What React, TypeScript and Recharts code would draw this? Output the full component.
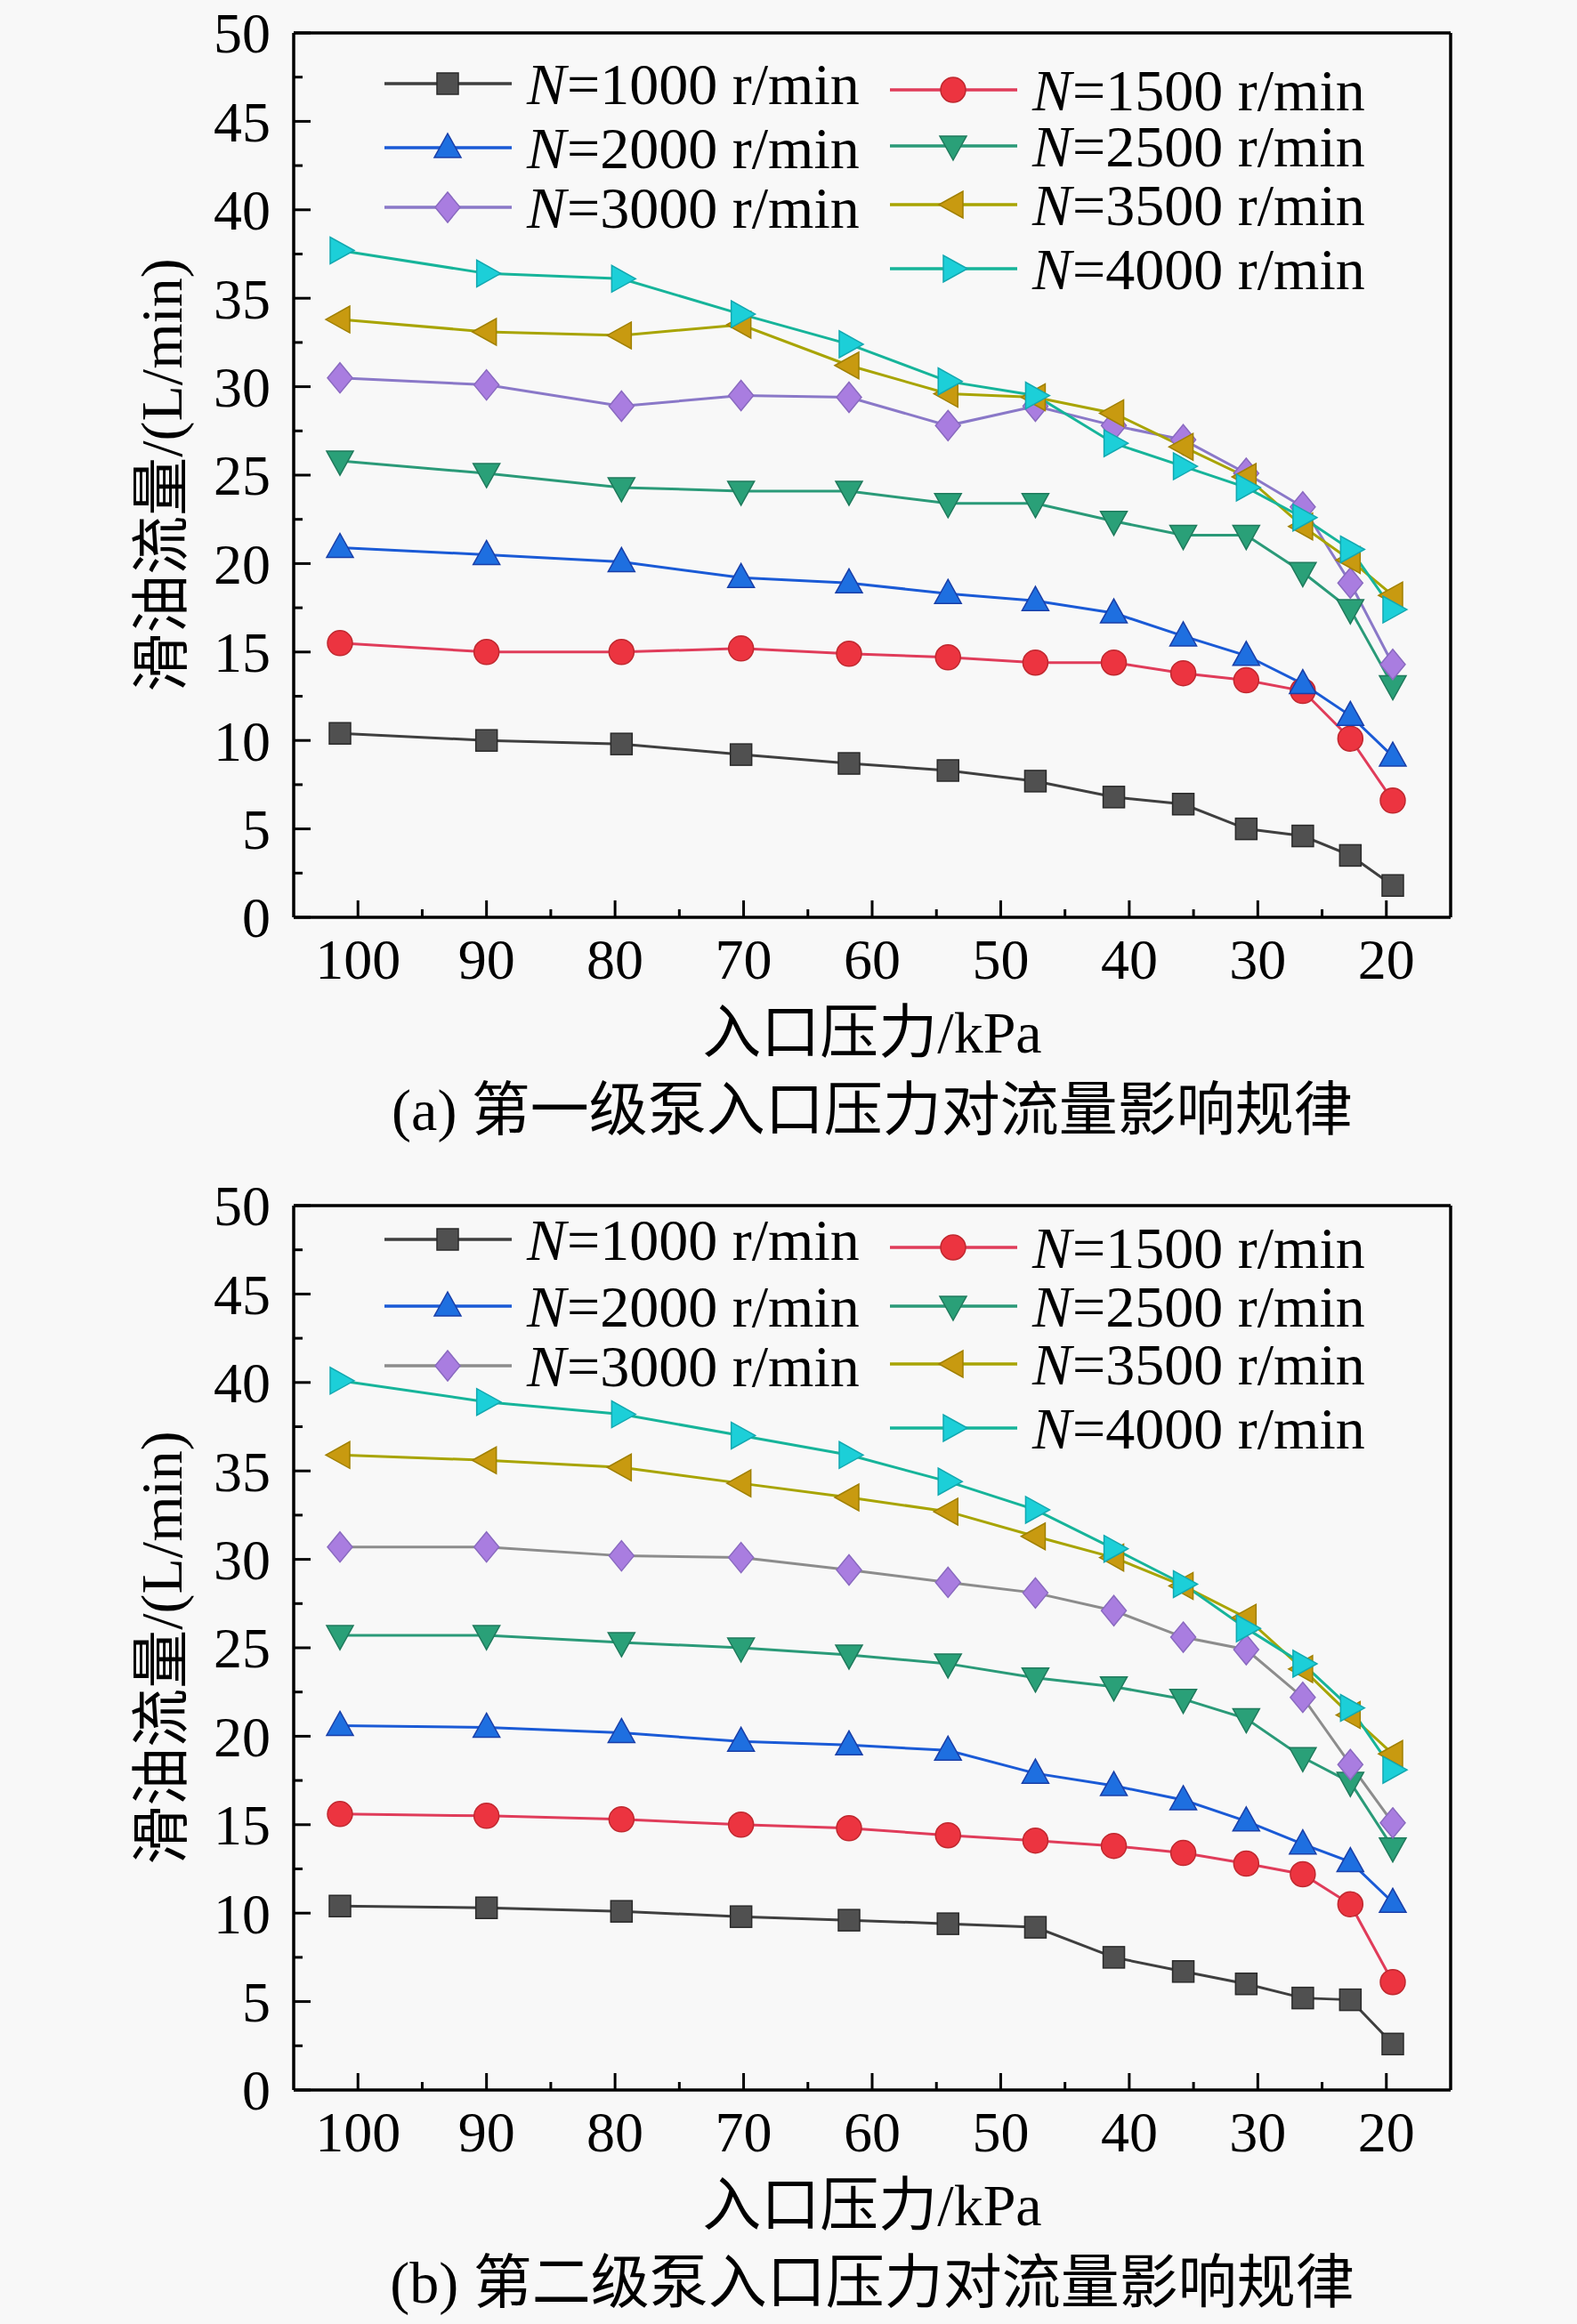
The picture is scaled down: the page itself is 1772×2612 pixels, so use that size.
import React from "react";
import { LineChart, Line, XAxis, YAxis, ReferenceLine, Legend } from "recharts";

const FONT = '"Liberation Serif", "Times New Roman", "Noto Sans CJK SC", serif';

// inlet pressure (kPa), same sampling points for all curves
const pressure = [101.4, 90.0, 79.5, 70.2, 61.8, 54.1, 47.3, 41.2, 35.8, 30.9, 26.5, 22.8, 19.5];
const speeds = [1000, 1500, 2000, 2500, 3000, 3500, 4000];
const xTicks = [20, 25, 30, 35, 40, 45, 50, 55, 60, 65, 70, 75, 80, 85, 90, 95, 100];
const yTicks = [0, 2.5, 5, 7.5, 10, 12.5, 15, 17.5, 20, 22.5, 25, 27.5, 30, 32.5, 35, 37.5, 40, 42.5, 45, 47.5, 50];

// (a) first stage pump, oil flow L/min
const a1000 = [10.4, 10.0, 9.8, 9.2, 8.7, 8.3, 7.7, 6.8, 6.4, 5.0, 4.6, 3.5, 1.8];
const a1500 = [15.5, 15.0, 15.0, 15.2, 14.9, 14.7, 14.4, 14.4, 13.8, 13.4, 12.8, 10.1, 6.6];
const a2000 = [20.9, 20.5, 20.1, 19.2, 18.9, 18.3, 17.9, 17.2, 15.9, 14.8, 13.2, 11.4, 9.1];
const a2500 = [25.8, 25.1, 24.3, 24.1, 24.1, 23.4, 23.4, 22.4, 21.6, 21.6, 19.5, 17.4, 13.1];
const a3000 = [30.5, 30.1, 28.9, 29.5, 29.4, 27.8, 28.9, 27.8, 27.0, 25.1, 23.2, 18.9, 14.3];
const a3500 = [33.8, 33.1, 32.9, 33.5, 31.2, 29.6, 29.4, 28.5, 26.6, 24.9, 22.1, 20.2, 18.2];
const a4000 = [37.7, 36.4, 36.1, 34.1, 32.4, 30.3, 29.5, 26.8, 25.5, 24.3, 22.6, 20.8, 17.4];

// (b) second stage pump
const b1000 = [10.4, 10.3, 10.1, 9.8, 9.6, 9.4, 9.2, 7.5, 6.7, 6.0, 5.2, 5.1, 2.6];
const b1500 = [15.6, 15.5, 15.3, 15.0, 14.8, 14.4, 14.1, 13.8, 13.4, 12.8, 12.2, 10.5, 6.1];
const b2000 = [20.6, 20.5, 20.2, 19.7, 19.5, 19.2, 17.9, 17.2, 16.4, 15.2, 13.9, 12.9, 10.6];
const b2500 = [25.7, 25.7, 25.3, 25.0, 24.6, 24.1, 23.3, 22.8, 22.1, 21.0, 18.8, 17.4, 13.7];
const b3000 = [30.7, 30.7, 30.2, 30.1, 29.4, 28.7, 28.1, 27.1, 25.6, 24.9, 22.2, 18.4, 15.1];
const b3500 = [35.9, 35.6, 35.2, 34.3, 33.5, 32.7, 31.3, 30.1, 28.5, 26.7, 23.8, 21.2, 19.0];
const b4000 = [40.1, 38.9, 38.2, 37.0, 35.9, 34.4, 32.8, 30.6, 28.6, 26.1, 24.1, 21.6, 18.1];

const styles = [
  { line: "#3f3f3f", fill: "#505050", stroke: "#2a2a2a", shape: "square" },
  { line: "#e03c5a", fill: "#ec3440", stroke: "#c0282f", shape: "circle" },
  { line: "#1a5ad6", fill: "#1e6fe0", stroke: "#1a3fa8", shape: "up" },
  { line: "#2a9a78", fill: "#2aa078", stroke: "#1f7a5c", shape: "down" },
  { line: "#8a78c8", fill: "#a97de0", stroke: "#8a6ac0", shape: "diamond" },
  { line: "#a8a400", fill: "#c89a10", stroke: "#a08000", shape: "left" },
  { line: "#16b49a", fill: "#1ccfd8", stroke: "#12a8b0", shape: "right" },
];

function buildRows(series: number[][]) {
  return pressure.map((p, i) => {
    const row: any = { p };
    speeds.forEach((s, k) => (row["n" + s] = series[k][i]));
    return row;
  });
}

function Marker({ cx, cy, shape, fill, stroke }: any) {
  if (cx == null || cy == null) return null;
  const common = { fill, stroke, strokeWidth: 1.5 };
  switch (shape) {
    case "square":
      return <rect x={cx - 12} y={cy - 12} width={24} height={24} {...common} />;
    case "circle":
      return <circle cx={cx} cy={cy} r={14} {...common} />;
    case "up":
      return <polygon points={`${cx},${cy - 16} ${cx + 15},${cy + 11} ${cx - 15},${cy + 11}`} {...common} />;
    case "down":
      return <polygon points={`${cx},${cy + 16} ${cx + 15},${cy - 11} ${cx - 15},${cy - 11}`} {...common} />;
    case "diamond":
      return <polygon points={`${cx},${cy - 17} ${cx + 14},${cy} ${cx},${cy + 17} ${cx - 14},${cy}`} {...common} />;
    case "left":
      return <polygon points={`${cx - 16},${cy} ${cx + 11},${cy - 15} ${cx + 11},${cy + 15}`} {...common} />;
    default:
      return <polygon points={`${cx + 16},${cy} ${cx - 11},${cy - 15} ${cx - 11},${cy + 15}`} {...common} />;
  }
}

function YTick({ x, y, payload }: any) {
  const major = payload.value % 5 === 0;
  return (
    <g>
      <line x1={x} x2={x + (major ? 19 : 10)} y1={y} y2={y} stroke="#000" strokeWidth={3} />
      {major && (
        <text x={x - 26} y={y} dy="0.35em" textAnchor="end" fontSize={64} fontFamily={FONT} fill="#000">
          {payload.value}
        </text>
      )}
    </g>
  );
}

function XTick({ x, y, payload }: any) {
  const major = payload.value % 10 === 0;
  return (
    <g>
      <line x1={x} x2={x} y1={y} y2={y - (major ? 19 : 9)} stroke="#000" strokeWidth={3} />
      {major && (
        <text x={x} y={y + 47} dy="0.35em" textAnchor="middle" fontSize={64} fontFamily={FONT} fill="#000">
          {payload.value}
        </text>
      )}
    </g>
  );
}

function LegendBox({ col1, col2, lineColors }: any) {
  const items = speeds.map((s, k) => {
    // left column: 1000, 2000, 3000; right column: 1500, 2500, 3500, 4000
    const left = k % 2 === 0 && k < 6;
    const row = k === 6 ? 3 : Math.floor(k / 2);
    const y = left ? col1[row] : col2[row];
    const x0 = left ? 432 : 1000;
    const st = styles[k];
    return (
      <g key={s}>
        <line x1={x0} x2={x0 + 143} y1={y} y2={y} stroke={lineColors[k]} strokeWidth={3.5} />
        <Marker cx={x0 + 71} cy={y} shape={st.shape} fill={st.fill} stroke={st.stroke} />
        <text x={x0 + 160} y={y} dy="0.35em" fontSize={66} fontFamily={FONT} fontStyle="italic" fill="#000">
          N
        </text>
        <text x={x0 + 205} y={y} dy="0.35em" fontSize={66} fontFamily={FONT} fill="#000">
          ={s} r/min
        </text>
      </g>
    );
  });
  return (
    <svg width={1772} height={340} style={{ display: "block", overflow: "visible" }}>
      {items}
    </svg>
  );
}

function StageChart({ series, top, height, bottom, col1, col2, line3000, caption }: any) {
  const rows = buildRows(series);
  const lineColors = styles.map((s, k) => (k === 4 ? line3000 : s.line));
  const plotBottom = height - bottom;
  const textStyle: any = {
    position: "absolute",
    fontFamily: FONT,
    fontSize: 66,
    lineHeight: 1,
    whiteSpace: "nowrap",
  };
  return (
    <div style={{ position: "absolute", left: 0, top, width: 1772, height }}>
      <LineChart
        width={1772}
        height={height}
        data={rows}
        margin={{ top: 37, right: 142, left: 250, bottom: bottom - 40 }}
      >
        <XAxis
          type="number"
          dataKey="p"
          domain={[15, 105]}
          reversed
          allowDataOverflow
          ticks={xTicks}
          interval={0}
          height={40}
          tickLine={false}
          tickSize={0}
          tickMargin={0}
          tick={(p: any) => <XTick {...p} />}
          axisLine={{ stroke: "#000", strokeWidth: 3.5 }}
        />
        <YAxis
          type="number"
          domain={[0, 50]}
          allowDataOverflow
          ticks={yTicks}
          interval={0}
          width={80}
          tickLine={false}
          tickSize={0}
          tickMargin={0}
          tick={(p: any) => <YTick {...p} />}
          axisLine={{ stroke: "#000", strokeWidth: 3.5 }}
        />
        <ReferenceLine y={50} stroke="#000" strokeWidth={3.5} />
        <ReferenceLine x={15} stroke="#000" strokeWidth={3.5} />
        <Legend
          verticalAlign="middle"
          align="center"
          wrapperStyle={{ left: 0, top: 0, width: 1772, height: 340 }}
          content={() => <LegendBox col1={col1} col2={col2} lineColors={lineColors} />}
        />
        {speeds.map((s, k) => (
          <Line
            key={s}
            type="linear"
            dataKey={"n" + s}
            stroke={lineColors[k]}
            strokeWidth={3}
            isAnimationActive={false}
            dot={(d: any) => (
              <Marker key={d.index} cx={d.cx} cy={d.cy} shape={styles[k].shape} fill={styles[k].fill} stroke={styles[k].stroke} />
            )}
            activeDot={false}
          />
        ))}
      </LineChart>
      <div
        style={{
          ...textStyle,
          left: 182,
          top: (37 + plotBottom) / 2,
          transform: "translate(-50%, -50%) rotate(-90deg)",
        }}
      >
        滑油流量/(L/min)
      </div>
      <div style={{ ...textStyle, left: 980, top: plotBottom + 130, transform: "translate(-50%, -50%)" }}>
        入口压力/kPa
      </div>
      <div style={{ ...textStyle, left: 980, top: plotBottom + 217, transform: "translate(-50%, -50%)" }}>
        {caption}
      </div>
    </div>
  );
}

export default function App() {
  return (
    <div style={{ position: "absolute", left: 0, top: 0, width: 1772, height: 2612, background: "#f8f8f8", overflow: "hidden" }}>
      <StageChart
        series={[a1000, a1500, a2000, a2500, a3000, a3500, a4000]}
        top={0}
        height={1318}
        bottom={287}
        col1={[94, 166, 233]}
        col2={[101, 164, 230, 302]}
        line3000="#8a78c8"
        caption="(a) 第一级泵入口压力对流量影响规律"
      />
      <StageChart
        series={[b1000, b1500, b2000, b2500, b3000, b3500, b4000]}
        top={1318}
        height={1294}
        bottom={263}
        col1={[75, 150, 217]}
        col2={[84, 150, 215, 287]}
        line3000="#8c8c8c"
        caption="(b) 第二级泵入口压力对流量影响规律"
      />
    </div>
  );
}
